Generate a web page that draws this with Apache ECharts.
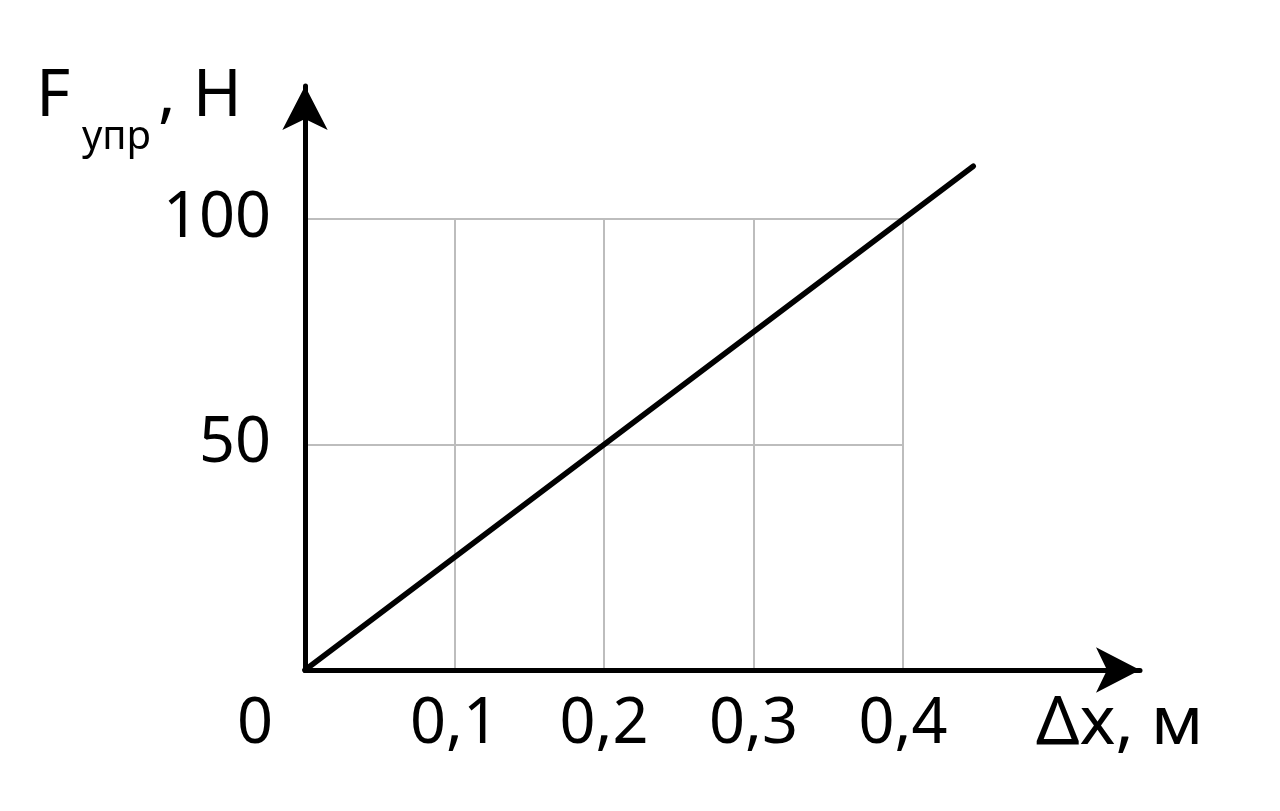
<!DOCTYPE html>
<html>
<head>
<meta charset="utf-8">
<script src="https://cdn.jsdelivr.net/npm/echarts@6/dist/echarts.min.js"></script>
<style>
  html, body { margin: 0; padding: 0; background: #fff; }
  #chart { width: 1280px; height: 811px; }
</style>
</head>
<body>
<div id="chart"></div>
<script>
// extension (m) and elastic force (N)
const dx = [0, 0.447]
const force = [0, 111.7]
const xTicks = [0, 0.1, 0.2, 0.3, 0.4]
const yTicks = [0, 50, 100]

const FONT = 'Noto Sans'
const chart = echarts.init(document.getElementById('chart'))

// arrow axes go past the grid box, same scale (1495 px per m, 4.51 px per N)
const xArrowMax = 835 / 1495
const yArrowMax = 584 / 4.51

chart.setOption({
  animation: false,
  backgroundColor: '#fff',
  grid: [
    // grid box: only 0..0.4 and 0..100
    { left: 305, right: 377, top: 219, bottom: 141 },
    // axes with arrows, longer than the grid box
    { left: 305, right: 140, top: 86, bottom: 141 }
  ],
  xAxis: [
    {
      type: 'value',
      gridIndex: 0,
      min: xTicks[0],
      max: xTicks[xTicks.length - 1],
      interval: 0.1,
      axisLine: { show: false },
      axisTick: { show: false },
      splitLine: { show: true, lineStyle: { color: '#bdbdbd', width: 2 } },
      axisLabel: {
        margin: 24,
        color: '#000',
        fontFamily: FONT,
        fontSize: 63,
        formatter: function (v) {
          if (v === 0) return '{z|0}'
          return String(v).replace('.', ',')
        },
        rich: {
          z: { fontFamily: FONT, fontSize: 63, color: '#000', padding: [0, 100, 0, 0] }
        }
      }
    },
    {
      type: 'value',
      gridIndex: 1,
      min: 0,
      max: xArrowMax,
      axisLine: {
        show: true,
        symbol: ['none', 'arrow'],
        symbolSize: [34, 44],
        lineStyle: { color: '#000', width: 5 }
      },
      axisTick: { show: false },
      axisLabel: { show: false },
      splitLine: { show: false }
    }
  ],
  yAxis: [
    {
      type: 'value',
      gridIndex: 0,
      min: yTicks[0],
      max: yTicks[yTicks.length - 1],
      interval: 50,
      axisLine: { show: false },
      axisTick: { show: false },
      splitLine: { show: true, lineStyle: { color: '#bdbdbd', width: 2 } },
      axisLabel: {
        margin: 34,
        color: '#000',
        fontFamily: FONT,
        fontSize: 63,
        formatter: function (v) { return v === 0 ? '' : String(v) }
      }
    },
    {
      type: 'value',
      gridIndex: 1,
      min: 0,
      max: yArrowMax,
      axisLine: {
        show: true,
        symbol: ['none', 'arrow'],
        symbolSize: [34, 44],
        lineStyle: { color: '#000', width: 5 }
      },
      axisTick: { show: false },
      axisLabel: { show: false },
      splitLine: { show: false }
    }
  ],
  graphic: [
    { type: 'text', left: 36, top: 64, style: { text: 'F', fontFamily: FONT, fontSize: 66, fill: '#000' } },
    { type: 'text', left: 82, top: 118, style: { text: 'упр', fontFamily: FONT, fontSize: 40, fill: '#000' } },
    { type: 'text', left: 158, top: 64, style: { text: ', Н', fontFamily: FONT, fontSize: 66, fill: '#000' } },
    {
      type: 'text', left: 1036, top: 691,
      style: {
        text: '{a|Δx,} {b|м}',
        rich: {
          a: { fontFamily: FONT, fontSize: 68, fill: '#000' },
          b: { fontFamily: FONT, fontSize: 68, fill: '#000', padding: [0, 0, 0, 14] }
        }
      }
    }
  ],
  series: [
    {
      type: 'line',
      xAxisIndex: 1,
      yAxisIndex: 1,
      data: dx.map((x, i) => [x, force[i]]),
      clip: false,
      symbol: 'none',
      lineStyle: { color: '#000', width: 5.5, cap: 'round' },
      z: 5
    }
  ]
})
</script>
</body>
</html>
